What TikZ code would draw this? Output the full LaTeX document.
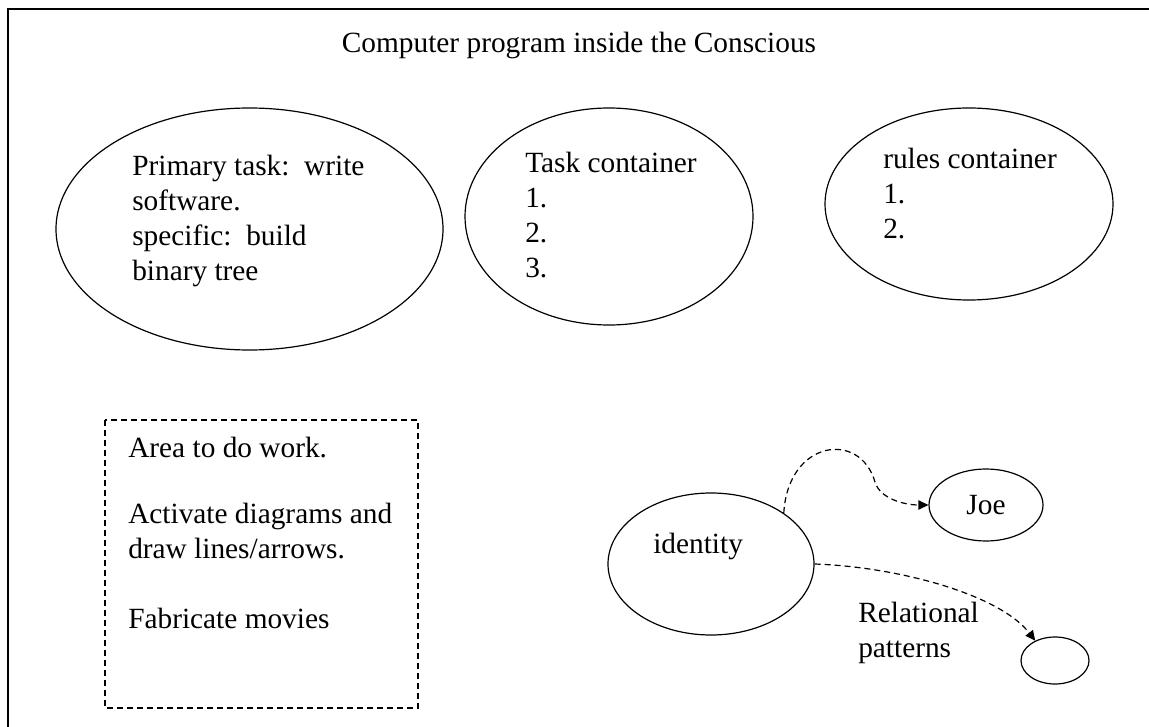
\documentclass[tikz,border=0pt]{standalone}
\usepackage{fontspec}
\setmainfont{Liberation Serif}
\usetikzlibrary{shapes.geometric,arrows.meta,positioning}
\tikzset{
  oval/.style={draw,ellipse,line width=0.9pt,inner sep=0pt},
  txt/.style={inner sep=0pt,align=left,font=\fontsize{22}{26.25}\selectfont},
  link/.style={dash pattern=on 4.5pt off 3pt,line width=0.9pt,-{Triangle[length=7.5pt,width=7pt]}}
}
\begin{document}
\begin{tikzpicture}[x=0.75pt,y=-0.75pt]
\useasboundingbox (0,0) rectangle (1149,727);
\draw[line width=1.5pt] (8,727) -- (8,9) -- (1149,9);
\node[txt,anchor=base] (title) at (579,53) {Computer program inside the Conscious};
\node[oval,minimum width=290.25pt,minimum height=181.5pt] (primary) at (249.5,229) {};
\node[oval,minimum width=216pt,minimum height=162.75pt] (tasks) at (609,216.5) {};
\node[oval,minimum width=216pt,minimum height=144pt] (rules) at (969,204) {};
\node[txt,anchor=north west] (primarytxt) at (132,155) {Primary task:\ \ write\\software.\\specific:\ \ build\\binary tree};
\node[txt,anchor=north west] (taskstxt) at (525,152) {Task container\\1.\\2.\\3.};
\node[txt,anchor=north west] (rulestxt) at (883,148) {rules container\\1.\\2.};
\draw[dash pattern=on 4.5pt off 3pt,line width=0.9pt] (105,420) rectangle (418,708);
\node[txt,anchor=north west] (worktxt) at (128,437) {Area to do work.\\[23.25pt]Activate diagrams and\\draw lines/arrows.\\[26.25pt]Fabricate movies};
\node[oval,minimum width=154.5pt,minimum height=106.5pt] (identity) at (711,564) {};
\node[txt,anchor=base west] (identitytxt) at (653,553) {identity};
\node[oval,minimum width=85.5pt,minimum height=54pt,font=\fontsize{22}{26.25}\selectfont] (joe) at (986,505) {Joe};
\node[oval,minimum width=51pt,minimum height=35.25pt] (pat) at (1055,660.5) {};
\node[txt,anchor=north west] (reltxt) at (858,602) {Relational\\patterns};
\draw[link] (identity.35) .. controls (788,440) and (860,430) .. (875,482) .. controls (880,499) and (905,505) .. (joe.west);
\draw[link] (identity.east) .. controls (900,567) and (1000,595) .. (pat.135);
\end{tikzpicture}
\end{document}
